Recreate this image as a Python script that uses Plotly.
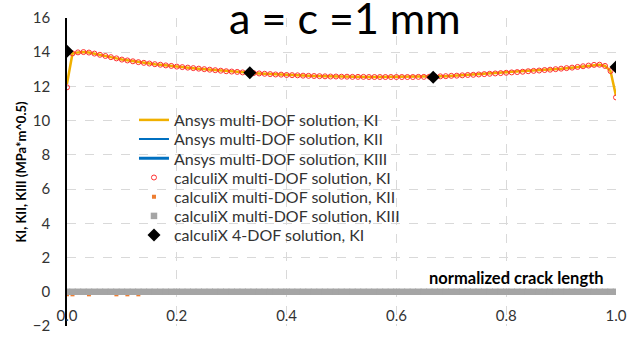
import plotly.graph_objects as go

# normalized crack length sampling grid (0.00 ... 1.00, step 0.01)
crack_pos = [round(i / 100, 2) for i in range(101)]

ansys_ki = [
    12.15, 13.93, 13.99, 14.01, 13.98, 13.92, 13.85, 13.78, 13.71, 13.64,
    13.57, 13.52, 13.47, 13.42, 13.38, 13.34, 13.30, 13.27, 13.23, 13.20,
    13.16, 13.13, 13.10, 13.07, 13.04, 13.01, 12.98, 12.95, 12.92, 12.89,
    12.87, 12.85, 12.82, 12.80, 12.78, 12.76, 12.74, 12.72, 12.70, 12.69,
    12.67, 12.66, 12.65, 12.63, 12.62, 12.61, 12.60, 12.59, 12.58, 12.58,
    12.57, 12.57, 12.56, 12.56, 12.56, 12.55, 12.55, 12.55, 12.55, 12.55,
    12.55, 12.55, 12.55, 12.55, 12.56, 12.56, 12.57, 12.58, 12.59, 12.60,
    12.62, 12.63, 12.65, 12.67, 12.68, 12.70, 12.72, 12.74, 12.76, 12.78,
    12.80, 12.82, 12.84, 12.86, 12.89, 12.91, 12.93, 12.96, 12.98, 13.01,
    13.04, 13.07, 13.10, 13.14, 13.18, 13.22, 13.26, 13.27, 13.20, 12.90,
    11.45,
]
calculix_ki = [
    11.95, 13.93, 13.99, 14.01, 13.98, 13.92, 13.85, 13.78, 13.71, 13.64,
    13.57, 13.52, 13.47, 13.42, 13.38, 13.34, 13.30, 13.27, 13.23, 13.20,
    13.16, 13.13, 13.10, 13.07, 13.04, 13.01, 12.98, 12.95, 12.92, 12.89,
    12.87, 12.85, 12.82, 12.80, 12.78, 12.76, 12.74, 12.72, 12.70, 12.69,
    12.67, 12.66, 12.65, 12.63, 12.62, 12.61, 12.60, 12.59, 12.58, 12.58,
    12.57, 12.57, 12.56, 12.56, 12.56, 12.55, 12.55, 12.55, 12.55, 12.55,
    12.55, 12.55, 12.55, 12.55, 12.56, 12.56, 12.57, 12.58, 12.59, 12.60,
    12.62, 12.63, 12.65, 12.67, 12.68, 12.70, 12.72, 12.74, 12.76, 12.78,
    12.80, 12.82, 12.84, 12.86, 12.89, 12.91, 12.93, 12.96, 12.98, 13.01,
    13.04, 13.07, 13.10, 13.14, 13.18, 13.22, 13.26, 13.27, 13.20, 12.90,
    11.36,
]
ansys_kii = [0.0] * len(crack_pos)
ansys_kiii = [0.0] * len(crack_pos)
calculix_kii = [
    -0.15, -0.15, 0.0, 0.0, -0.15, 0.0, 0.0, 0.0, 0.0, -0.15,
    0.0, -0.15, 0.0, -0.15, 0.0, 0.0, 0.0, 0.0, 0.0, 0.0,
] + [0.0] * 81
calculix_kiii = [0.0] * len(crack_pos)

dof4_pos = [0.0, 0.333, 0.667, 1.0]
dof4_ki = [14.05, 12.80, 12.54, 13.13]

x_ticks = [0.0, 0.2, 0.4, 0.6, 0.8, 1.0]
x_ticktext = ["0.0", "0.2", "0.4", "0.6", "0.8", "1.0"]
y_ticks = [-2, 0, 2, 4, 6, 8, 10, 12, 14, 16]

FONT = "Lato"
W, H = 627, 339
ML, MR, MT, MB = 67, 11, 18, 13
PLOT_W = W - ML - MR
PLOT_H = H - MT - MB

fig = go.Figure()

traces = [
    dict(x=crack_pos, y=ansys_ki, mode="lines", name="Ansys multi-DOF solution, KI",
         line=dict(color="#F0B000", width=2.5)),
    dict(x=crack_pos, y=ansys_kii, mode="lines", name="Ansys multi-DOF solution, KII",
         line=dict(color="#0070C0", width=2)),
    dict(x=crack_pos, y=ansys_kiii, mode="lines", name="Ansys multi-DOF solution, KIII",
         line=dict(color="#0070C0", width=3)),
    dict(x=crack_pos, y=calculix_ki, mode="markers", name="calculiX multi-DOF solution, KI",
         marker=dict(symbol="circle-open", size=5, color="#FF3030", line=dict(width=1))),
    dict(x=crack_pos, y=calculix_kii, mode="markers", name="calculiX multi-DOF solution, KII",
         marker=dict(symbol="square", size=4, color="#ED7D31")),
    dict(x=crack_pos, y=calculix_kiii, mode="markers", name="calculiX multi-DOF solution, KIII",
         marker=dict(symbol="square", size=6.5, color="#A5A5A5")),
    dict(x=dof4_pos, y=dof4_ki, mode="markers", name="calculiX 4-DOF solution, KI",
         marker=dict(symbol="diamond", size=10, color="black")),
]

# one single-entry legend per trace so the row spacing can follow the reference
legend_row_px = [120, 139.2, 158.4, 177.6, 196.8, 216, 235.2]
legend_layout = {}
for i, (tr, row_px) in enumerate(zip(traces, legend_row_px)):
    key = "legend" if i == 0 else f"legend{i + 1}"
    fig.add_trace(go.Scatter(**tr, legend=key, showlegend=True))
    legend_layout[key] = dict(
        x=0.122, xanchor="left", y=(H - MB - row_px) / PLOT_H, yanchor="middle",
        bgcolor="rgba(0,0,0,0)", borderwidth=0, itemwidth=30,
        font=dict(family=FONT, size=16, color="#333333"),
    )

# white legend box background (hides the gridlines behind the legend)
box_x0, box_x1 = (134 - ML) / PLOT_W, (402 - ML) / PLOT_W
box_y0, box_y1 = (H - MB - 246) / PLOT_H, (H - MB - 109) / PLOT_H

fig.update_layout(
    width=W, height=H,
    margin=dict(l=ML, r=MR, t=MT, b=MB, autoexpand=False),
    paper_bgcolor="white", plot_bgcolor="white",
    font=dict(family=FONT, size=15, color="#333333"),
    title=dict(text="a = c =1 mm", x=0.55, xanchor="center", y=0.944, yanchor="middle",
               font=dict(family=FONT, size=43, color="black")),
    showlegend=True,
    shapes=[dict(type="rect", xref="paper", yref="paper", x0=box_x0, x1=box_x1,
                 y0=box_y0, y1=box_y1, fillcolor="white", line=dict(width=0),
                 layer="between")],
    xaxis=dict(range=[0, 1.0], tickvals=x_ticks, ticktext=x_ticktext,
               showgrid=True, gridcolor="#D9D9D9", griddash="dash", gridwidth=1,
               zeroline=False, showline=False, automargin=False,
               anchor="free", position=2 / 18,
               ticks="outside", ticklen=10, tickcolor="rgba(0,0,0,0)",
               tickfont=dict(family=FONT, size=15, color="#333333")),
    yaxis=dict(range=[-2, 16], tickvals=y_ticks, automargin=False,
               showgrid=True, gridcolor="#D9D9D9", griddash="dash", gridwidth=1,
               zeroline=False, showline=True, linecolor="black", linewidth=1.5,
               ticks="outside", ticklen=12, tickcolor="rgba(0,0,0,0)",
               tickfont=dict(family=FONT, size=15, color="#333333"),
               title=dict(text="KI, KII, KIII (MPa*m^0.5)", standoff=3,
                          font=dict(family=FONT, size=13, color="black", weight="bold"))),
    annotations=[dict(text="<b>normalized crack length</b>", xref="paper", yref="y",
                      x=0.982, y=0.8, xanchor="right", yanchor="middle", showarrow=False,
                      font=dict(family=FONT, size=16.5, color="black"))],
    **legend_layout,
)

fig.write_html("out.html", config={"displayModeBar": False},
               post_script="document.body.style.margin='0px';")
